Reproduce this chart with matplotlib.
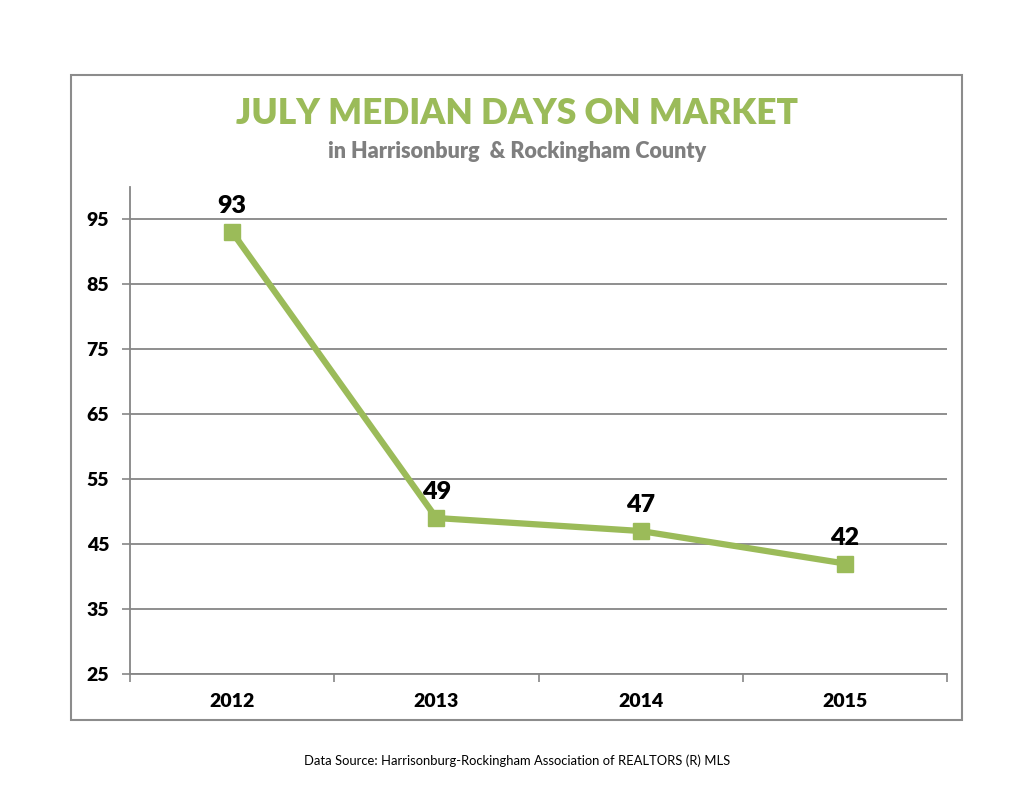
import matplotlib
matplotlib.use('Agg')
import matplotlib.pyplot as plt
from matplotlib.patches import Rectangle

years = ['2012', '2013', '2014', '2015']
days = [93, 49, 47, 42]
yticks = [25, 35, 45, 55, 65, 75, 85, 95]

green = '#9bbb59'
grid_c = '#868686'
plt.rcParams['font.family'] = ['Lato', 'DejaVu Sans']

fig = plt.figure(figsize=(10.35, 8.0), dpi=100)
# outer chart frame
fig.patches.append(Rectangle((71/1035, 1-720/800), 891/1035, 645/800,
                             transform=fig.transFigure, fill=False,
                             edgecolor='#8c8c8c', linewidth=1.5))

ax = fig.add_axes([130/1035, 1-674/800, 817/1035, (674-186.5)/800])
x = list(range(len(years)))
ax.plot(x, days, color=green, linewidth=4.5, marker='s', markersize=12,
        zorder=3, clip_on=False)
for xi, v in zip(x, days):
    ax.text(xi, v + 2.3, str(v), ha='center', va='bottom', fontsize=18,
            fontweight='heavy', color='black')

ax.set_xlim(-0.5, 3.5)
ax.set_ylim(25, 100)
ax.set_yticks(yticks)
ax.set_yticklabels([str(t) for t in yticks], fontsize=14, fontweight='heavy')
ax.set_xticks(x)
ax.set_xticklabels(years, fontsize=14, fontweight='heavy')
ax.set_xticks([-0.5, 0.5, 1.5, 2.5, 3.5], minor=True)
ax.tick_params(axis='x', which='major', length=0, pad=14)
ax.tick_params(axis='x', which='minor', length=6, color=grid_c, width=1.2)
ax.tick_params(axis='y', length=6, color=grid_c, width=1.2, pad=9)
ax.grid(axis='y', color=grid_c, linewidth=1.3)
ax.set_axisbelow(True)
for s in ['top', 'right']:
    ax.spines[s].set_visible(False)
for s in ['left', 'bottom']:
    ax.spines[s].set_color(grid_c)
    ax.spines[s].set_linewidth(1.3)

fig.text(517/1035, 1-113/800, 'JULY MEDIAN DAYS ON MARKET', ha='center',
         va='center', fontsize=25.5, fontweight='heavy', color=green)
fig.text(517/1035, 1-152/800, 'in Harrisonburg  & Rockingham County',
         ha='center', va='center', fontsize=15.5, fontweight='heavy', color='#7f7f7f')
fig.text(517/1035, 1-761/800,
         'Data Source: Harrisonburg-Rockingham Association of REALTORS (R) MLS',
         ha='center', va='center', fontsize=9.4, color='black')

fig.savefig('out.png', dpi=100)
